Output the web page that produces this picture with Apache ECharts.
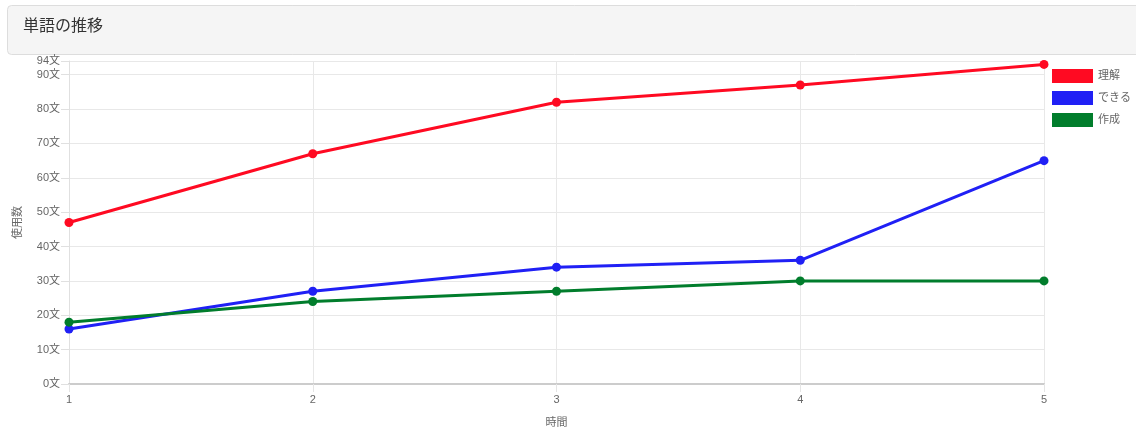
<!DOCTYPE html>
<html>
<head>
<meta charset="utf-8">
<script src="https://cdn.jsdelivr.net/npm/echarts@6/dist/echarts.min.js"></script>
<style>
  html, body { margin: 0; padding: 0; background: #fff; }
  #chart-container { width: 1136px; height: 427px; }
</style>
</head>
<body>
<div id="chart-container"></div>
<script>
var times = ['1', '2', '3', '4', '5'];
var rikai = [47, 67, 82, 87, 93];
var dekiru = [16, 27, 34, 36, 65];
var sakusei = [18, 24, 27, 30, 30];

var dom = document.getElementById('chart-container');
var myChart = echarts.init(dom, null, { renderer: 'canvas' });
var font = '"Liberation Sans", "Noto Sans CJK JP", sans-serif';

function line(name, data, color) {
  return {
    name: name,
    type: 'line',
    data: data,
    symbol: 'circle',
    symbolSize: 9,
    color: color,
    lineStyle: { width: 3, color: color },
    itemStyle: { color: color },
    animation: false
  };
}

var option = {
  textStyle: { fontFamily: font },
  graphic: [
    {
      type: 'rect',
      shape: { x: 7.5, y: 5.5, width: 1140, height: 49, r: 4 },
      style: { fill: '#f5f5f5', stroke: '#dddddd', lineWidth: 1 },
      z: -1
    }
  ],
  title: {
    text: '単語の推移',
    left: 18,
    top: 14,
    textStyle: { fontSize: 16, fontWeight: 'normal', color: '#333', fontFamily: font }
  },
  legend: {
    orient: 'vertical',
    left: 1047,
    top: 64,
    itemWidth: 41,
    itemHeight: 14,
    itemGap: 8,
    icon: 'rect',
    textStyle: { fontSize: 11, color: '#666', fontFamily: font },
    data: ['理解', 'できる', '作成']
  },
  grid: { left: 69, right: 92, top: 61, bottom: 43, outerBoundsMode: 'none' },
  xAxis: {
    type: 'category',
    data: times,
    boundaryGap: false,
    name: '時間',
    nameLocation: 'middle',
    nameGap: 33,
    nameTextStyle: { fontSize: 11, color: '#666' },
    axisLine: { lineStyle: { color: '#cccccc', width: 2 } },
    axisTick: { show: true, length: 8, lineStyle: { color: '#e5e5e5' } },
    axisLabel: { fontSize: 11, color: '#666', margin: 10 },
    splitLine: { show: true, lineStyle: { color: '#e8e8e8' } }
  },
  yAxis: {
    type: 'value',
    min: 0,
    max: 94,
    interval: 10,
    name: '使用数',
    nameLocation: 'middle',
    nameGap: 46,
    nameTextStyle: { fontSize: 11, color: '#666' },
    axisLine: { show: true, lineStyle: { color: '#e0e0e0' } },
    axisTick: { show: true, length: 8, lineStyle: { color: '#e0e0e0' } },
    axisLabel: {
      fontSize: 11, color: '#666', margin: 9,
      formatter: function (v) { return v + '文'; }
    },
    splitLine: { show: true, lineStyle: { color: '#e8e8e8' } }
  },
  series: [
    line('理解', rikai, '#ff0a22'),
    line('できる', dekiru, '#2020f5'),
    line('作成', sakusei, '#017d2c')
  ]
};

myChart.setOption(option);
window.addEventListener('resize', myChart.resize);
</script>
</body>
</html>
